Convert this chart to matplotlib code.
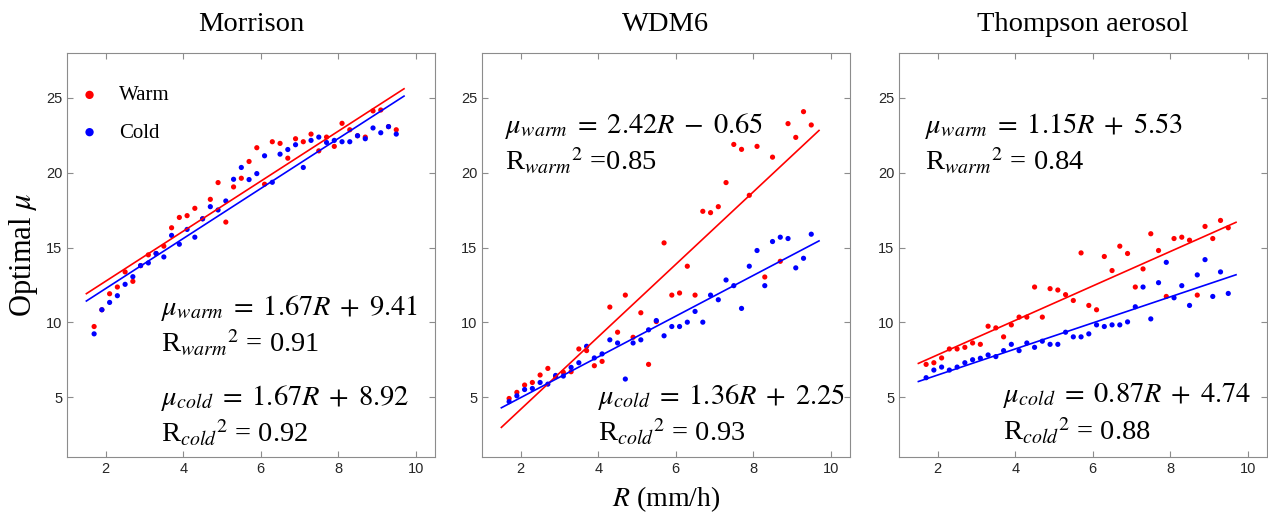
import matplotlib
matplotlib.use('Agg')
import matplotlib.pyplot as plt
import numpy as np

plt.rcParams['font.family'] = 'Liberation Serif'
plt.rcParams['mathtext.fontset'] = 'stix'

# rain rate bins (mm/h)
R = [1.7, 1.9, 2.1, 2.3, 2.5, 2.7, 2.9, 3.1, 3.3, 3.5,
     3.7, 3.9, 4.1, 4.3, 4.5, 4.7, 4.9, 5.1, 5.3, 5.5,
     5.7, 5.9, 6.1, 6.3, 6.5, 6.7, 6.9, 7.1, 7.3, 7.5,
     7.7, 7.9, 8.1, 8.3, 8.5, 8.7, 8.9, 9.1, 9.3, 9.5]

schemes = ['Morrison', 'WDM6', 'Thompson aerosol']

morrison_warm = [9.72, 10.84, 11.91, 12.36, 13.37, 12.74, 13.79, 14.51, 14.6, 15.09,
                 16.32, 17.01, 17.13, 17.62, 16.92, 18.22, 19.34, 16.7, 19.05, 19.63,
                 20.75, 21.67, 19.23, 22.07, 21.96, 20.97, 22.27, 22.07, 22.58, 21.46,
                 22.38, 21.76, 23.3, 22.87, 22.47, 22.38, 24.13, 24.19, 23.08, 22.87]
morrison_cold = [9.23, 10.84, 11.33, 11.78, 12.54, 13.05, 13.79, 13.97, 14.6, 14.37,
                 15.81, 15.22, 16.21, 15.69, 16.92, 17.73, 17.51, 18.11, 19.56, 20.35,
                 19.54, 19.94, 21.13, 19.36, 21.24, 21.55, 21.87, 20.35, 22.16, 22.38,
                 22.02, 22.16, 22.07, 22.07, 22.47, 22.27, 22.99, 22.67, 23.08, 22.58]

wdm6_warm = [4.91, 5.32, 5.81, 5.98, 6.48, 6.92, 6.36, 6.66, 6.7, 8.22,
             8.11, 7.1, 7.39, 11.02, 9.34, 11.82, 9.0, 10.64, 7.19, 10.05,
             15.31, 11.82, 11.96, 13.75, 11.82, 17.42, 17.33, 17.73, 19.34, 21.89,
             21.56, 18.49, 21.76, 13.03, 21.04, 14.08, 23.28, 22.36, 24.08, 23.19]
wdm6_cold = [4.7, 5.09, 5.51, 5.58, 5.98, 5.87, 6.45, 6.41, 6.99, 7.3,
             8.4, 7.62, 7.89, 8.83, 8.62, 6.21, 8.62, 8.83, 9.5, 10.12,
             9.1, 9.72, 9.72, 10.01, 10.73, 10.01, 11.82, 11.51, 12.83, 12.45,
             10.93, 13.75, 14.8, 12.45, 15.4, 15.69, 15.6, 13.64, 14.28, 15.89]

thompson_warm = [7.19, 7.3, 7.62, 8.22, 8.22, 8.33, 8.62, 8.53, 9.74, 9.63,
                 9.03, 9.83, 10.35, 10.35, 12.36, 10.35, 12.25, 12.16, 11.85, 11.46,
                 14.64, 11.13, 10.84, 14.4, 13.46, 15.09, 14.6, 12.36, 13.57, 15.92,
                 14.8, 11.73, 15.6, 15.69, 15.49, 11.82, 16.41, 15.6, 16.81, 16.32]
thompson_cold = [6.3, 6.81, 7.01, 6.81, 7.01, 7.3, 7.5, 7.6, 7.82, 7.71,
                 8.11, 8.53, 8.11, 8.62, 8.33, 8.74, 8.53, 8.53, 9.34, 9.03,
                 9.03, 9.23, 9.83, 9.72, 9.83, 9.83, 10.03, 11.04, 12.36, 10.23,
                 12.65, 14.01, 11.64, 12.45, 11.13, 13.17, 14.19, 11.73, 13.37, 11.93]

warm_all = [morrison_warm, wdm6_warm, thompson_warm]
cold_all = [morrison_cold, wdm6_cold, thompson_cold]

# linear fits (slope, intercept) and R^2
warm_slope = [1.67, 2.42, 1.15]
warm_icpt = [9.41, -0.65, 5.53]
cold_slope = [1.67, 1.36, 0.87]
cold_icpt = [8.92, 2.25, 4.74]
warm_eq = [r'$\mu_{warm}\;=\;1.67R\;+\;9.41$', r'$\mu_{warm}\;=\;2.42R\;-\;0.65$',
           r'$\mu_{warm}\;=\;1.15R\;+\;5.53$']
warm_r2 = [r'R$_{warm}{}^{2}$ = 0.91', r'R$_{warm}{}^{2}$ =0.85',
           r'R$_{warm}{}^{2}$ = 0.84']
cold_eq = [r'$\mu_{cold}\;=\;1.67R\;+\;8.92$', r'$\mu_{cold}\;=\;1.36R\;+\;2.25$',
           r'$\mu_{cold}\;=\;0.87R\;+\;4.74$']
cold_r2 = [r'R$_{cold}{}^{2}$ = 0.92', r'R$_{cold}{}^{2}$ = 0.93',
           r'R$_{cold}{}^{2}$ = 0.88']

# text anchor positions (data coords)
warm_txt = [(3.42, 10.97), (1.6, 23.1), (1.67, 23.1)]
cold_txt = [(3.42, 4.93), (4.0, 5.0), (3.69, 5.1)]

W, H = 1268, 516
fig = plt.figure(figsize=(W/100, H/100), dpi=100)
lefts = [67, 482, 899]
xfit = np.array([1.5, 9.7])
gray = '#8c8c8c'

for k in range(3):
    ax = fig.add_axes([lefts[k]/W, 59/H, 368/W, 404/H])
    ax.scatter(R, warm_all[k], s=14, color='red', edgecolors='none', label='Warm', zorder=2)
    ax.scatter(R, cold_all[k], s=14, color='blue', edgecolors='none', label='Cold', zorder=2)
    ax.plot(xfit, warm_slope[k]*xfit + warm_icpt[k], color='red', lw=1.2, zorder=3)
    ax.plot(xfit, cold_slope[k]*xfit + cold_icpt[k], color='blue', lw=1.2, zorder=3)

    ax.set_xlim(1, 10.5)
    ax.set_ylim(1, 28)
    ax.set_xticks([2, 4, 6, 8, 10])
    ax.set_yticks([5, 10, 15, 20, 25])
    ax.tick_params(direction='in', top=True, right=True, length=4, width=0.8,
                   color=gray, labelcolor='#262626', labelsize=10.5)
    for lab in ax.get_xticklabels() + ax.get_yticklabels():
        lab.set_fontfamily('Liberation Sans')
    for sp in ax.spines.values():
        sp.set_color(gray)
        sp.set_linewidth(0.8)

    ax.set_title(schemes[k], fontsize=20.5, pad=16)

    x0, y0 = warm_txt[k]
    ax.text(x0, y0, warm_eq[k], fontsize=20.5, va='center', ha='left')
    ax.text(x0, y0 - 2.35, warm_r2[k], fontsize=20.5, va='center', ha='left')
    x1, y1 = cold_txt[k]
    ax.text(x1, y1, cold_eq[k], fontsize=20.5, va='center', ha='left')
    ax.text(x1, y1 - 2.35, cold_r2[k], fontsize=20.5, va='center', ha='left')

    if k == 0:
        ax.set_ylabel(r'Optimal $\mu$', fontsize=22, labelpad=4)
        ax.legend(loc='upper left', bbox_to_anchor=(-0.035, 0.955), frameon=False,
                  fontsize=15, markerscale=1.6, handletextpad=0.4,
                  labelspacing=0.85, borderaxespad=0.3)
    if k == 1:
        ax.set_xlabel(r'$R$ (mm/h)', fontsize=20, labelpad=6)

fig.savefig('out.png', dpi=100)
